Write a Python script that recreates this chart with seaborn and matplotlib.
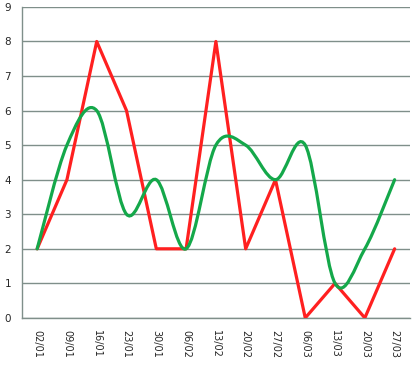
import numpy as np
import pandas as pd
import seaborn as sns
import matplotlib.pyplot as plt
from matplotlib.path import Path
from matplotlib.patches import PathPatch

# Data
dates = ['02/01', '09/01', '16/01', '23/01', '30/01', '06/02', '13/02',
         '20/02', '27/02', '06/03', '13/03', '20/03', '27/03']
red_values = [2, 4, 8, 6, 2, 2, 8, 2, 4, 0, 1, 0, 2]
green_values = [2, 5, 6, 3, 4, 2, 5, 5, 4, 5, 1, 2, 4]

GRID = '#7f8f8a'
RED = '#ff2020'
GREEN = '#14a84a'

sns.set_style('white')
plt.rcParams['font.family'] = ['DejaVu Sans']

fig = plt.figure(figsize=(4.12, 3.65), dpi=100)
ax = fig.add_axes([0.054, 0.129, 0.94, 0.852])

df = pd.DataFrame({'date': dates, 'red': red_values, 'green': green_values})
df['pos'] = np.arange(len(dates))

# Red: straight segments
sns.lineplot(data=df, x='pos', y='red', color=RED, linewidth=2.3, ax=ax,
             zorder=3)

# Green: smoothed line (Excel-style Bezier through the data points)
x = df['pos'].to_numpy(float)
y = df['green'].to_numpy(float)
pts = np.column_stack([x, y])
verts = [pts[0]]
codes = [Path.MOVETO]
n = len(pts)
for i in range(n - 1):
    p0 = pts[max(i - 1, 0)]
    p1 = pts[i]
    p2 = pts[i + 1]
    p3 = pts[min(i + 2, n - 1)]
    c1 = p1 + (p2 - p0) / 6
    c2 = p2 - (p3 - p1) / 6
    verts += [c1, c2, p2]
    codes += [Path.CURVE4] * 3
ax.add_patch(PathPatch(Path(verts, codes), facecolor='none', edgecolor=GREEN,
                       linewidth=2.3, zorder=4, capstyle='round'))

ax.set_xlim(-0.5, len(dates) - 0.5)
ax.set_ylim(0, 9)
ax.set_yticks(range(0, 10))
ax.set_xticks(df['pos'])
ax.set_xticklabels(dates, rotation=270, fontsize=7)
ax.set_xticks(np.arange(-0.5, len(dates), 1), minor=True)
ax.tick_params(axis='x', which='major', length=0, pad=9)
ax.tick_params(axis='x', which='minor', length=4, color=GRID, width=1,
               direction='out')
ax.tick_params(axis='y', length=0, labelsize=7.5, pad=8)
ax.grid(axis='y', color=GRID, linewidth=1)
ax.set_xlabel('')
ax.set_ylabel('')
for side in ['top', 'right']:
    ax.spines[side].set_visible(False)
for side in ['left', 'bottom']:
    ax.spines[side].set_color(GRID)
    ax.spines[side].set_linewidth(1)

fig.savefig('out.png', dpi=100)
